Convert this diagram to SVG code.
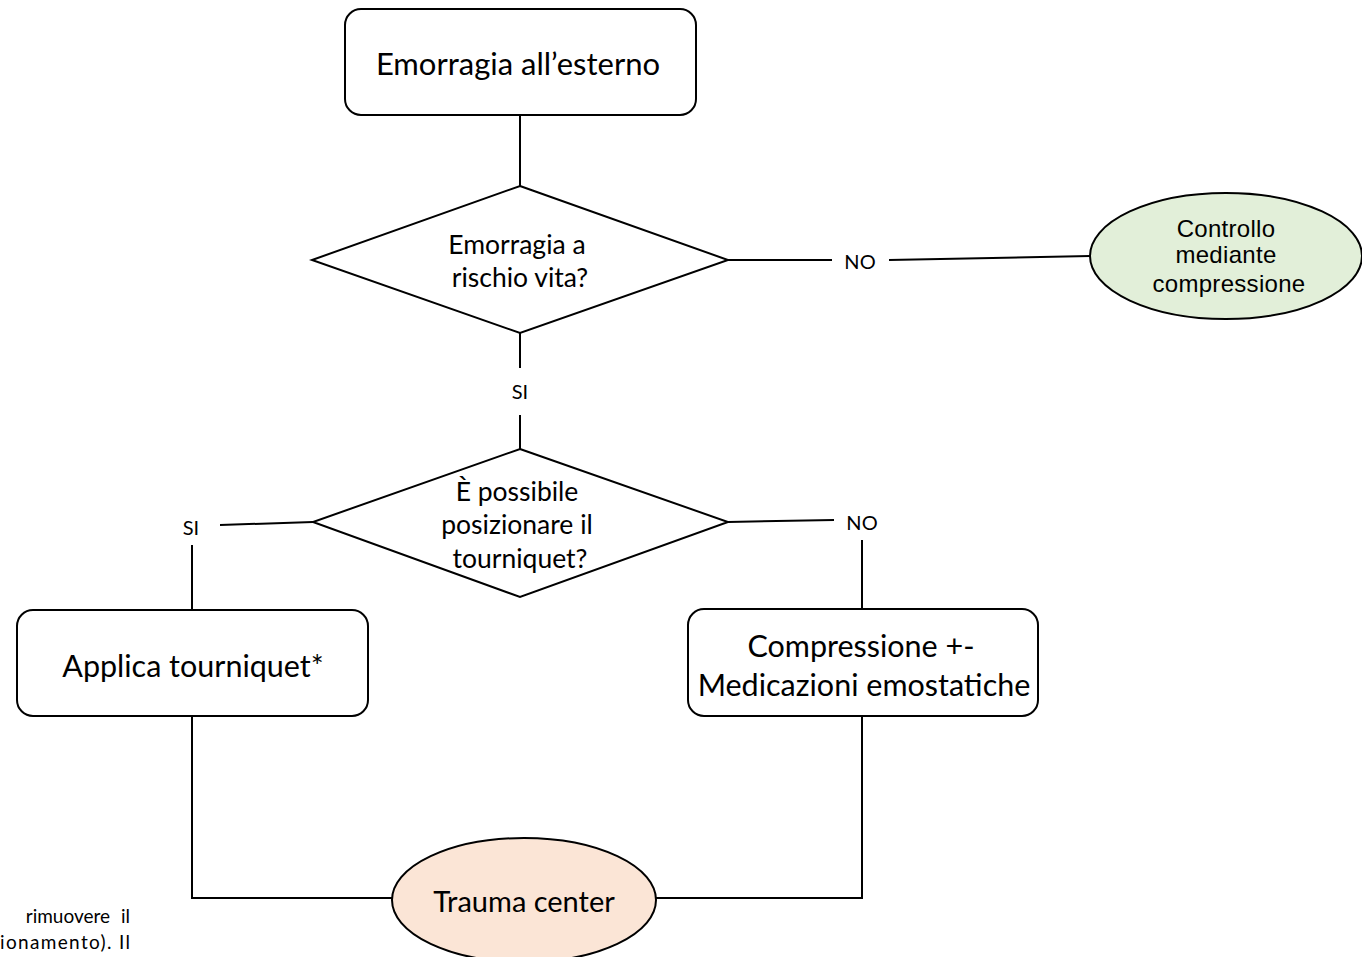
<svg xmlns="http://www.w3.org/2000/svg" width="1362" height="957" viewBox="0 0 1362 957">
<style>
.box{fill:#fff;stroke:#000;stroke-width:2}
.ln{fill:none;stroke:#000;stroke-width:2}
.t{font-family:Lato,"Open Sans",sans-serif;fill:#000;text-anchor:middle}
.a{font-family:"Liberation Sans",Arial,sans-serif;fill:#000;text-anchor:middle}
.f{font-family:Lato,"Open Sans",sans-serif;fill:#000;font-size:19px}
</style>
<rect width="1362" height="957" fill="#fff"/>
<g id="connectors">
<path class="ln" d="M520,115 L520,186"/>
<path class="ln" d="M728,260 L832,260"/>
<path class="ln" d="M889,260 L1090,256"/>
<path class="ln" d="M520,333 L520,368"/>
<path class="ln" d="M520,415 L520,449"/>
<path class="ln" d="M313,522 L220,525"/>
<path class="ln" d="M192,545 L192,610"/>
<path class="ln" d="M728,522 L834,520"/>
<path class="ln" d="M862,540 L862,609"/>
<path class="ln" d="M192,716 L192,898 L392,898"/>
<path class="ln" d="M656,898 L862,898 L862,716"/>
<text class="t" x="860" y="269" font-size="20">NO</text>
<text class="t" x="520" y="399" font-size="20">SI</text>
<text class="t" x="191" y="535" font-size="20">SI</text>
<text class="t" x="862" y="530" font-size="20">NO</text>
</g>
<g id="n-start">
<rect class="box" x="345" y="9" width="351" height="106" rx="16"/>
<text class="t" x="518" y="75" font-size="31">Emorragia all’esterno</text>
</g>
<g id="n-dec1">
<polygon class="box" points="520,186 728,260 520,333 312,260"/>
<text class="t" x="517" y="254" font-size="26.5">Emorragia a</text>
<text class="t" x="520" y="287" font-size="26.5">rischio vita?</text>
</g>
<g id="n-control">
<ellipse cx="1226" cy="256" rx="136" ry="63" fill="#e2efd9" stroke="#000" stroke-width="2"/>
<text class="a" x="1226" y="237" font-size="24" letter-spacing="0.3">Controllo</text>
<text class="a" x="1226" y="263" font-size="24" letter-spacing="0.3">mediante</text>
<text class="a" x="1229" y="292" font-size="24" letter-spacing="0.3">compressione</text>
</g>
<g id="n-dec2">
<polygon class="box" points="520,449 728,522 520,597 313,522"/>
<text class="t" x="517" y="501" font-size="26.5">È possibile</text>
<text class="t" x="517" y="534" font-size="26.5">posizionare il</text>
<text class="t" x="520" y="568" font-size="26.5">tourniquet?</text>
</g>
<g id="n-tourniquet">
<rect class="box" x="17" y="610" width="351" height="106" rx="16"/>
<text class="t" x="193" y="677" font-size="30.5">Applica tourniquet*</text>
</g>
<g id="n-compress">
<rect class="box" x="688" y="609" width="350" height="107" rx="16"/>
<text class="t" x="861" y="657" font-size="30.5">Compressione +-</text>
<text class="t" x="864" y="696" font-size="30.5">Medicazioni emostatiche</text>
</g>
<g id="n-trauma">
<ellipse cx="524" cy="900" rx="132" ry="62" fill="#fbe5d6" stroke="#000" stroke-width="2"/>
<text class="t" x="524" y="912" font-size="29">Trauma center</text>
</g>
<g id="footer">
<text class="f" x="130" y="923" text-anchor="end" word-spacing="6">rimuovere il</text>
<text class="f" x="0" y="949" textLength="130">ionamento). Il</text>
</g>
</svg>
